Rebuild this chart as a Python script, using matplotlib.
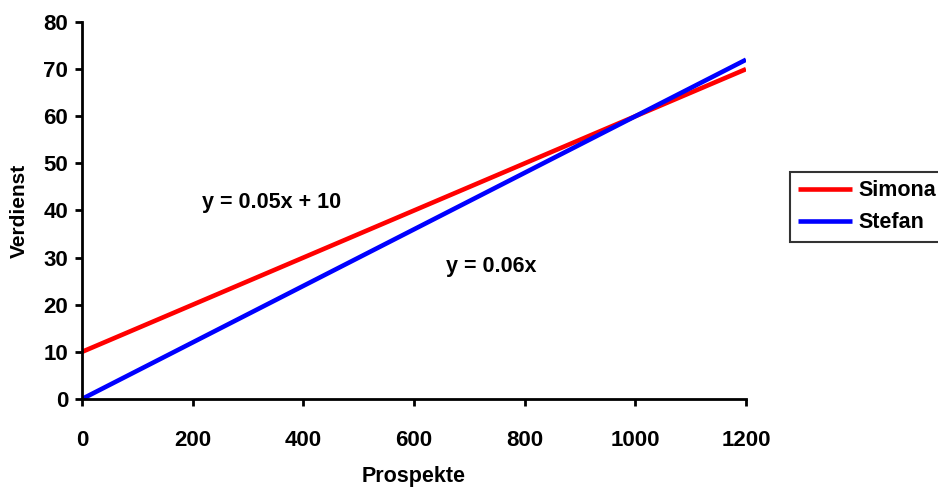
import matplotlib
matplotlib.use("Agg")
import matplotlib.pyplot as plt

plt.rcParams["font.family"] = ["Liberation Sans", "DejaVu Sans"]
plt.rcParams["font.weight"] = "bold"

x_vals = [0, 1200]
simona = [10, 70]
stefan = [0, 72]
xticks = [0, 200, 400, 600, 800, 1000, 1200]
yticks = [0, 10, 20, 30, 40, 50, 60, 70, 80]

fig = plt.figure(figsize=(9.38, 4.88), dpi=100)
ax = fig.add_axes([0.0874, 0.1824, 0.7079, 0.7725])

ax.plot(x_vals, simona, color="#ff0000", linewidth=3.3, label="Simona", solid_capstyle="butt")
ax.plot(x_vals, stefan, color="#0000ff", linewidth=3.3, label="Stefan", solid_capstyle="butt")

ax.set_xlim(0, 1200)
ax.set_ylim(0, 80)
ax.set_xticks(xticks)
ax.set_yticks(yticks)
ax.spines["top"].set_visible(False)
ax.spines["right"].set_visible(False)
for s in ["left", "bottom"]:
    ax.spines[s].set_linewidth(2)
ax.tick_params(direction="out", length=5, width=2, labelsize=16, pad=5)
ax.tick_params(axis="x", pad=17)
for lbl in ax.get_xticklabels() + ax.get_yticklabels():
    lbl.set_fontweight("bold")

ax.set_xlabel("Prospekte", fontsize=15.5, fontweight="bold", labelpad=11)
ax.set_ylabel("Verdienst", fontsize=15, fontweight="bold", labelpad=10)

ax.text(217, 41.8, "y = 0.05x + 10", fontsize=15.5, fontweight="bold", va="center", ha="left")
ax.text(658, 28.2, "y = 0.06x", fontsize=15.5, fontweight="bold", va="center", ha="left")

leg = fig.legend(loc="upper left", bbox_to_anchor=(0.842, 0.648), fontsize=15.5,
                 frameon=True, fancybox=False, edgecolor="black", handlelength=2.5,
                 borderpad=0.4, labelspacing=0.5, handletextpad=0.28, borderaxespad=0)
leg.get_frame().set_linewidth(1.5)
for t in leg.get_texts():
    t.set_fontweight("bold")

fig.savefig("out.png", dpi=100)
